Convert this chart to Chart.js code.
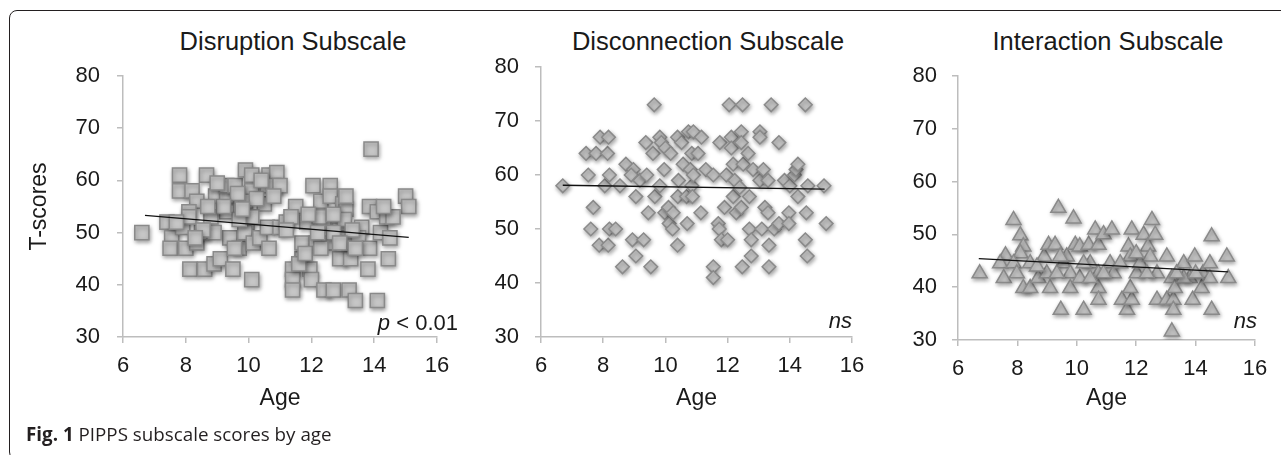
<!DOCTYPE html>
<html>
<head>
<meta charset="utf-8">
<script src="https://cdn.jsdelivr.net/npm/chart.js@4.4.1/dist/chart.umd.min.js"></script>
<style>
body { margin: 0; background: #fff; width: 1281px; height: 455px; overflow: hidden; position: relative; font-family: "Liberation Sans", Arial, sans-serif; }
.frame { position: absolute; left: 9px; top: 10px; width: 1300px; height: 450px; border: 1.5px solid #231f20; border-radius: 8px; box-sizing: border-box; }
.title { position: absolute; top: 26px; line-height: 30px; font-size: 25.5px; color: #1a1a1a; transform: translateX(-50%); white-space: nowrap; }
.box { position: absolute; top: 0; height: 455px; }
.caption { position: absolute; left: 26px; top: 422px; line-height: 25px; font-family: "Open Sans", sans-serif; font-size: 18.8px; color: #231f20; white-space: nowrap; }
.caption b { font-weight: 700; }
</style>
</head>
<body>
<div class="frame"></div>
<div class="title" style="left:293px">Disruption Subscale</div>
<div class="title" style="left:708px">Disconnection Subscale</div>
<div class="title" style="left:1108px">Interaction Subscale</div>
<div class="box" style="left:0;width:470px"><canvas id="disruption" width="470" height="455"></canvas></div>
<div class="box" style="left:470px;width:420px"><canvas id="disconnection" width="420" height="455"></canvas></div>
<div class="box" style="left:890px;width:391px"><canvas id="interaction" width="391" height="455"></canvas></div>
<div class="caption"><b>Fig. 1</b> PIPPS subscale scores by age</div>
<script>
// 軸の目盛り
const xTicks = [6, 8, 10, 12, 14, 16];
const yTicks = [30, 40, 50, 60, 70, 80];

// Disruption
const disruptionAge = [6.6, 7.8, 8.66, 7.8, 8.2, 7.4, 7.55, 7.5, 7.9, 8.0, 8.35, 8.5, 8.13, 8.6, 8.35, 8.1, 8.1, 8.9, 9.1, 9.5,
    8.95, 9.3, 9.3, 9.0, 9.3, 9.4, 9.7, 9.57, 9.9, 10.1, 10.1, 9.9, 9.95, 9.88, 10.15, 10.1, 10.36, 10.5, 10.6, 10.65,
    10.9, 10.8, 11.0, 10.6, 10.65, 11.0, 11.2, 11.5, 11.4, 11.4, 11.4, 11.7, 11.7, 11.85, 11.95, 12.0, 12.05, 12.15, 12.3, 12.4,
    12.6, 12.6, 12.55, 12.4, 12.7, 12.9, 12.97, 12.9, 13.0, 13.1, 13.05, 13.2, 13.4, 13.25, 13.2, 13.6, 13.5, 13.85, 14.1, 13.85,
    13.8, 14.1, 13.9, 14.2, 14.4, 14.5, 14.45, 15.0, 15.1, 14.6, 9.55, 8.8, 8.9, 11.35, 12.25, 12.7, 13.3, 12.7, 11.2, 10.1,
    9.7, 8.55, 9.65, 10.25, 11.6, 11.8, 12.3, 12.9, 13.4, 14.3, 13.1, 11.9, 12.2, 10.4, 10.8, 9.8, 9.2, 8.7, 7.7, 8.3];
const disruptionScore = [50, 61, 61, 58, 58, 52, 49, 47, 51, 47, 48, 50, 43, 43, 56, 54, 53, 44, 45, 43,
    57, 57, 59, 59.5, 54, 49, 47, 59, 62, 61, 58, 56, 52, 50, 48, 41, 49, 55.5, 59, 61,
    61.5, 59, 59, 51, 47, 51, 52, 55, 43, 41, 39, 45, 48, 52, 43, 41, 59, 48, 56, 52,
    59, 57, 48, 39, 39, 50.5, 49, 45, 55.5, 54.5, 52.5, 39, 37, 45, 48, 51, 49, 55, 54, 47,
    43, 37, 66, 50, 53, 49, 45, 57, 55, 53, 47, 53, 50, 53, 53, 53.5, 50.5, 50, 50.5, 53,
    52.5, 50.5, 57.5, 56.5, 44, 46, 47, 48, 47, 55, 57, 53.5, 50, 60, 57, 54.5, 55, 55, 52, 49];
const disruptionTrendAge = [6.7, 15.1];
const disruptionTrendScore = [53.3, 49.1];

// Disconnection
const disconnectionAge = [6.7, 9.64, 12.05, 12.48, 13.4, 14.5, 7.45, 7.77, 8.14, 7.9, 8.17, 7.52, 7.68, 7.6, 7.87, 8.16, 8.2, 8.4, 8.05, 8.2,
    8.54, 8.62, 8.73, 8.97, 8.9, 9.05, 8.94, 9.05, 9.3, 9.18, 9.37, 9.4, 9.45, 9.53, 9.6, 9.82, 9.87, 9.66, 9.82, 9.96,
    10.0, 9.98, 10.1, 10.12, 10.23, 10.17, 10.25, 10.39, 10.39, 10.52, 10.4, 10.42, 10.57, 10.68, 10.7, 10.74, 10.9, 10.85, 10.87, 10.8,
    10.9, 10.85, 11.05, 11.16, 11.14, 11.3, 11.54, 11.54, 11.54, 11.7, 11.73, 11.8, 12.0, 11.75, 11.9, 11.96, 12.12, 12.12, 12.18, 12.18,
    12.23, 12.28, 12.39, 12.44, 12.44, 12.44, 12.5, 12.47, 12.66, 12.7, 12.7, 12.76, 12.76, 12.82, 13.04, 13.04, 13.04, 13.15, 13.1, 13.2,
    13.3, 13.33, 13.33, 13.3, 13.5, 13.65, 13.65, 13.83, 13.97, 13.97, 14.0, 14.15, 14.2, 14.26, 14.26, 14.53, 14.5, 14.56, 14.58, 15.1,
    15.17];
const disconnectionScore = [58, 73, 73, 73, 73, 73, 64, 64, 64, 67, 67, 60, 54, 50, 47, 47, 50, 50, 58, 60,
    58, 43, 62, 61, 60, 56, 48, 45, 48, 59, 66, 60, 53, 43, 64, 67, 66, 56, 58, 61,
    65, 53, 54, 51, 50, 64, 53, 47, 67, 66, 56, 59, 62, 56, 51, 68, 68, 58, 56, 61,
    60, 64, 64, 67, 53, 61, 60, 43, 41, 51, 50, 48, 48, 66, 54, 60, 67, 65, 62, 56,
    59, 53, 57.7, 68, 66, 54, 62, 43, 64, 56, 50, 48, 45, 61, 68, 67, 59, 61, 50, 54,
    53, 47, 43, 59, 50, 51, 66, 59, 53, 51, 58, 60, 61, 62, 56, 53, 48, 45, 58, 58,
    51];
const disconnectionTrendAge = [6.7, 15.12];
const disconnectionTrendScore = [58.1, 57.4];

// Interaction
const interactionAge = [6.73, 7.87, 8.1, 8.2, 8.1, 7.6, 7.42, 7.54, 7.87, 7.98, 8.2, 8.43, 8.43, 8.7, 8.9, 8.99, 9.1, 9.05, 9.27, 9.38,
    9.46, 9.55, 9.66, 9.78, 9.78, 9.89, 9.95, 10.1, 10.1, 10.23, 10.4, 10.45, 10.62, 10.73, 10.73, 10.73, 10.73, 10.9, 11.18, 11.12,
    11.24, 11.52, 11.69, 11.74, 11.85, 11.8, 11.85, 11.8, 12.02, 12.13, 12.25, 12.4, 12.47, 12.53, 12.64, 12.7, 12.7, 13.03, 13.03, 13.2,
    13.25, 13.25, 13.2, 13.3, 13.6, 13.8, 13.9, 13.97, 14.2, 14.25, 14.48, 14.54, 14.48, 14.54, 15.05, 15.1, 9.33, 10.23, 10.9, 11.46,
    12.36, 13.6, 14.0, 9.44, 10.45, 12.0, 13.36, 8.66];
const interactionScore = [42.6, 52.7, 49.8, 47.7, 46.4, 46, 44.5, 41.7, 44.5, 42.6, 39.8, 39.8, 44.5, 41.7, 45.8, 42.6, 39.8, 48, 48, 55,
    35.7, 44.5, 45.8, 42.6, 39.8, 53, 48, 47.7, 41.7, 35.7, 48, 44.5, 50.9, 48, 42.6, 39.8, 37.6, 50, 50.9, 44.5,
    42.6, 37.6, 35.7, 47.7, 50.9, 45.8, 37.6, 39.8, 42.6, 44.5, 49.9, 47.7, 45.8, 52.7, 49.9, 42.6, 37.6, 45.8, 37.6, 41.7,
    37.6, 35.7, 31.6, 39.8, 44.5, 41.7, 37.6, 45.8, 39.8, 42.6, 44.5, 49.6, 41.7, 35.7, 45.8, 41.7, 42.6, 44.5, 42.6, 44.5,
    42.6, 41.7, 42.6, 45.8, 41.7, 46.4, 42.6, 43.9];
const interactionTrendAge = [6.7, 15.1];
const interactionTrendScore = [45.4, 42.9];

function toPoints(xs, ys) {
    return xs.map((x, i) => ({ x: x, y: ys[i] }));
}

const textColor = '#1a1a1a';
const axisColor = '#bdbdbd';
const fontFamily = '"Liberation Sans", Arial, sans-serif';

// マーカーの影
const shadowPlugin = {
    id: 'markerShadow',
    beforeDatasetDraw(chart, args) {
        if (args.index !== 1) return;
        const c = chart.ctx;
        c.save();
        c.shadowColor = 'rgba(0,0,0,0.35)';
        c.shadowBlur = 4;
        c.shadowOffsetX = 1;
        c.shadowOffsetY = 2;
    },
    afterDatasetDraw(chart, args) {
        if (args.index !== 1) return;
        chart.ctx.restore();
    }
};

// p値などの注記
const notePlugin = {
    id: 'note',
    afterDraw(chart, args, opts) {
        const c = chart.ctx;
        const a = chart.chartArea;
        c.save();
        c.fillStyle = textColor;
        c.textBaseline = 'alphabetic';
        c.textAlign = 'left';
        const fonts = opts.parts.map(p => (p.italic ? 'italic ' : '') + '22px ' + fontFamily);
        let total = 0;
        opts.parts.forEach((p, i) => { c.font = fonts[i]; total += c.measureText(p.text).width; });
        let x = a.right + opts.dx - total;
        opts.parts.forEach((p, i) => {
            c.font = fonts[i];
            c.fillText(p.text, x, a.bottom - opts.dy);
            x += c.measureText(p.text).width;
        });
        c.restore();
    }
};

function makeChart(id, ages, scores, trendAge, trendScore, marker, radius, cfg) {
    const ctx = document.getElementById(id).getContext('2d');
    return new Chart(ctx, {
        type: 'scatter',
        data: {
            datasets: [
                {
                    data: toPoints(trendAge, trendScore),
                    showLine: true,
                    borderColor: '#111',
                    borderWidth: 1.3,
                    pointRadius: 0
                },
                {
                    data: toPoints(ages, scores),
                    pointStyle: marker,
                    pointRadius: radius,
                    backgroundColor: '#c6c6c6',
                    borderColor: '#8a8a8a',
                    borderWidth: 1.5
                }
            ]
        },
        options: {
            responsive: false,
            animation: false,
            layout: { padding: { top: cfg.top, right: cfg.right, bottom: cfg.bottom, left: 0 } },
            plugins: {
                legend: { display: false },
                tooltip: { enabled: false },
                note: { parts: cfg.note, dx: cfg.noteDx, dy: cfg.noteDy }
            },
            scales: {
                x: {
                    type: 'linear', min: 6, max: 16,
                    afterBuildTicks: s => { s.ticks = xTicks.map(v => ({ value: v })); },
                    ticks: { padding: 10, color: textColor, font: { family: fontFamily, size: 22 } },
                    grid: { drawOnChartArea: false, tickLength: 6, color: axisColor, lineWidth: 1.5 },
                    border: { color: axisColor, width: 1.5 },
                    title: { display: true, text: 'Age', color: textColor, padding: 0, font: { family: fontFamily, size: 23 } },
                    afterFit(s) { s.height = cfg.xHeight; }
                },
                y: {
                    min: 30, max: 80,
                    afterBuildTicks: s => { s.ticks = yTicks.map(v => ({ value: v })); },
                    ticks: { padding: cfg.yPad, color: textColor, font: { family: fontFamily, size: 22 } },
                    grid: { drawOnChartArea: false, tickLength: 6, color: axisColor, lineWidth: 1.5 },
                    border: { color: axisColor, width: 1.5 },
                    title: { display: cfg.yTitle, text: 'T-scores', color: textColor, padding: { top: 26, bottom: 0 }, font: { family: fontFamily, size: 23 } },
                    afterFit(s) { s.width = cfg.yWidth; }
                }
            }
        },
        plugins: [shadowPlugin, notePlugin]
    });
}

makeChart('disruption', disruptionAge, disruptionScore, disruptionTrendAge, disruptionTrendScore, 'rect', 10, {
    top: 76, right: 33, bottom: 43, xHeight: 75, yWidth: 123, yPad: 17, yTitle: true,
    note: [{ text: 'p', italic: true }, { text: ' < 0.01' }], noteDx: 21, noteDy: 7
});
makeChart('disconnection', disconnectionAge, disconnectionScore, disconnectionTrendAge, disconnectionTrendScore, 'rectRot', 6.8, {
    top: 67, right: 38, bottom: 43, xHeight: 75, yWidth: 71, yPad: 16, yTitle: false,
    note: [{ text: 'ns', italic: true }], noteDx: 0, noteDy: 9
});
makeChart('interaction', interactionAge, interactionScore, interactionTrendAge, interactionTrendScore, 'triangle', 8.7, {
    top: 76, right: 26, bottom: 43, xHeight: 72, yWidth: 68, yPad: 15, yTitle: false,
    note: [{ text: 'ns', italic: true }], noteDx: 2, noteDy: 12
});
</script>
</body>
</html>
